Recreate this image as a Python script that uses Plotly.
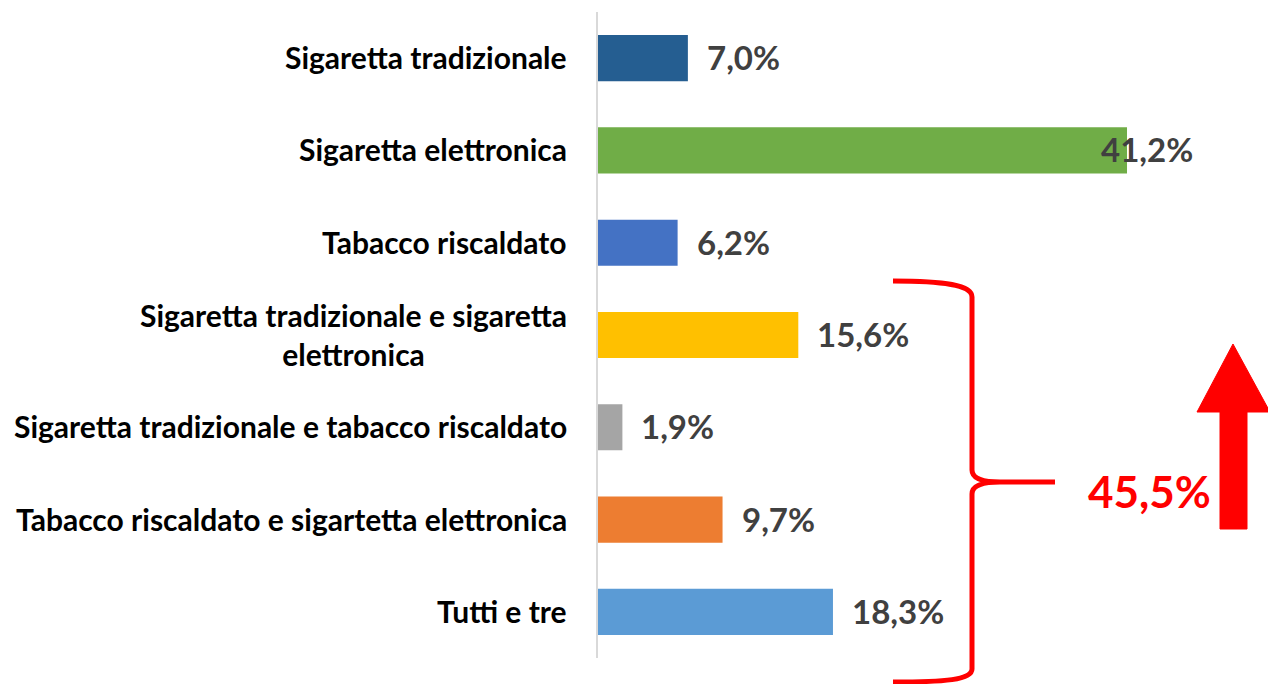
import plotly.graph_objects as go

categories = [
    "Sigaretta tradizionale",
    "Sigaretta elettronica",
    "Tabacco riscaldato",
    "Sigaretta tradizionale e sigaretta<br>elettronica",
    "Sigaretta tradizionale e tabacco riscaldato",
    "Tabacco riscaldato e sigartetta elettronica",
    "Tutti e tre",
]
values = [7.0, 41.2, 6.2, 15.6, 1.9, 9.7, 18.3]
value_labels = ["7,0%", "41,2%", "6,2%", "15,6%", "1,9%", "9,7%", "18,3%"]
bar_colors = ["#255E91", "#70AD47", "#4472C4", "#FFC000", "#A5A5A5", "#ED7D31", "#5B9BD5"]
total_label = "45,5%"

W, H = 1268, 684
ML, MR, MT, MB = 598, 0, 12, 26
PW, PH = W - ML - MR, H - MT - MB
PX_PER_UNIT = 12.84

FONT = "Lato"

fig = go.Figure()
fig.add_trace(go.Bar(
    x=values, y=categories, orientation="h",
    marker=dict(color=bar_colors, line=dict(width=0)),
    hoverinfo="skip",
))

annotations = []
# category labels
for c in categories:
    annotations.append(dict(
        x=0, y=c, xref="x", yref="y", text=c, showarrow=False,
        xanchor="right", yanchor="middle", align="center", xshift=-29, yshift=1,
        font=dict(family=FONT, size=30, color="#000000", weight="bold"),
    ))
# value labels
label_shift = [17, -28, 17, 17, 17, 17, 17]
for c, v, t, s in zip(categories, values, value_labels, label_shift):
    annotations.append(dict(
        x=v, y=c, xref="x", yref="y", text=t, showarrow=False,
        xanchor="left", yanchor="middle", xshift=s, yshift=1,
        font=dict(family=FONT, size=33, color="#404040", weight="bold"),
    ))


def px2paper(px, py):
    return (px - ML) / PW, (H - MB - py) / PH


def path_from(cmds):
    out = []
    for cmd, pts in cmds:
        coords = []
        for (px, py) in pts:
            xx, yy = px2paper(px, py)
            coords.append(f"{xx:.5f},{yy:.5f}")
        out.append(cmd + " " + " ".join(coords))
    return " ".join(out)


brace = path_from([
    ("M", [(893, 281)]),
    ("C", [(945, 281), (972, 285), (972, 297)]),
    ("L", [(972, 470)]),
    ("C", [(972, 479), (985, 482), (1000, 482)]),
    ("L", [(1055, 482)]),
    ("M", [(1000, 482)]),
    ("C", [(985, 482), (972, 485), (972, 494)]),
    ("L", [(972, 669)]),
    ("C", [(972, 680), (945, 682), (893, 682)]),
])

arrow = path_from([
    ("M", [(1220, 529)]),
    ("L", [(1220, 412)]),
    ("L", [(1197, 412)]),
    ("L", [(1233, 344)]),
    ("L", [(1270, 412)]),
    ("L", [(1247, 412)]),
    ("L", [(1247, 529)]),
]) + " Z"

shapes = [
    dict(type="path", xref="paper", yref="paper", path=brace,
         line=dict(color="#FF0000", width=5), fillcolor="rgba(0,0,0,0)"),
    dict(type="path", xref="paper", yref="paper", path=arrow,
         line=dict(color="#FF0000", width=1), fillcolor="#FF0000"),
]

tx, ty = px2paper(1149, 491)
annotations.append(dict(
    x=tx, y=ty, xref="paper", yref="paper", text=total_label, showarrow=False,
    xanchor="center", yanchor="middle",
    font=dict(family=FONT, size=44, color="#FF0000", weight="bold"),
))

fig.update_layout(
    width=W, height=H,
    margin=dict(l=ML, r=MR, t=MT, b=MB),
    plot_bgcolor="white", paper_bgcolor="white",
    bargap=0.5, showlegend=False,
    xaxis=dict(range=[0, PW / PX_PER_UNIT], visible=False, fixedrange=True),
    yaxis=dict(autorange="reversed", showticklabels=False, ticks="",
               showline=True, linecolor="#D9D9D9", linewidth=2,
               showgrid=False, zeroline=False, fixedrange=True),
    annotations=annotations, shapes=shapes,
)

fig.write_html(
    "out.html",
    config={"displayModeBar": False},
    post_script="document.body.style.margin='0';document.body.style.overflow='hidden';",
)
